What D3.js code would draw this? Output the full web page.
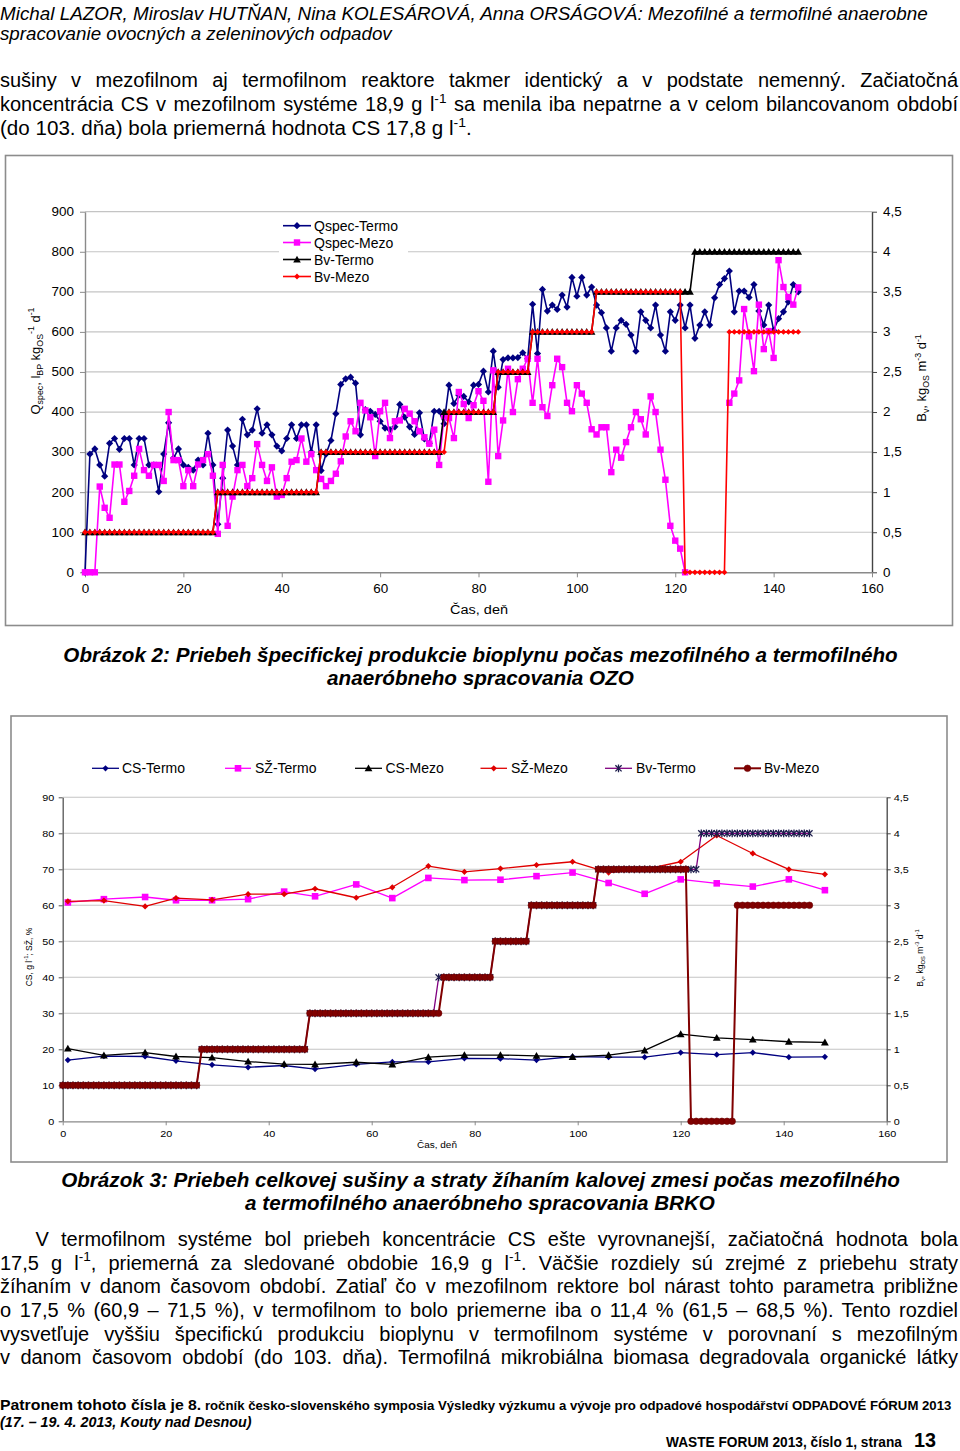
<!DOCTYPE html>
<html>
<head>
<meta charset="utf-8">
<title>Obrázok 2 a 3</title>
<script src="https://cdn.jsdelivr.net/npm/d3@7/dist/d3.min.js"></script>
<style>
html, body { margin:0; padding:0; background:#fff; }
svg { display:block; }
</style>
</head>
<body>
<svg id="page" width="960" height="1451" xmlns="http://www.w3.org/2000/svg"></svg>
<script>
// ================= DATA =================
// Chart 1 (Obrázok 2): daily values, array index = day (0..145)
const qspecTermo = [
  0,295,308,268,240,322,334,307,334,334,
  268,334,334,268,268,201,295,373,285,308,
  268,262,255,280,268,347,268,120,235,355,
  315,268,382,343,355,408,347,368,343,315,
  303,334,368,334,368,368,300,368,254,295,
  329,396,469,483,487,472,343,406,402,394,
  377,360,356,363,419,387,363,344,398,333,
  322,402,402,371,467,421,442,439,425,467,
  469,502,450,552,462,531,535,535,536,548,
  533,669,546,706,652,667,656,692,662,736,
  689,736,692,712,667,648,610,552,610,629,
  619,592,552,650,629,610,667,592,552,650,
  629,667,610,667,584,617,650,617,685,718,
  733,752,650,702,702,686,718,652,617,667,
  604,633,650,675,718,700
];
const qspecMezo = [
  0,0,0,214,161,136,269,269,176,203,
  241,308,255,241,268,268,228,400,280,280,
  215,255,215,269,280,295,241,96,268,116,
  189,255,268,215,235,320,268,228,262,189,
  193,235,276,280,334,276,295,255,233,215,
  228,246,277,339,377,352,423,404,387,290,
  402,423,335,377,379,408,396,377,352,337,
  321,356,268,390,385,335,450,420,385,417,
  452,428,226,504,290,379,508,400,482,508,
  533,423,533,412,390,467,533,512,423,402,
  467,446,423,357,344,362,362,250,306,286,
  325,362,400,382,344,439,400,306,231,116,
  79,59,0,null,null,null,null,null,null,null,
  null,423,446,479,657,589,502,668,557,602,
  535,779,712,687,668,711
];
const bvTermo = [
  0.5,0.5,0.5,0.5,0.5,0.5,0.5,0.5,0.5,0.5,
  0.5,0.5,0.5,0.5,0.5,0.5,0.5,0.5,0.5,0.5,
  0.5,0.5,0.5,0.5,0.5,0.5,0.5,1,1,1,
  1,1,1,1,1,1,1,1,1,1,
  1,1,1,1,1,1,1,1,1.5,1.5,
  1.5,1.5,1.5,1.5,1.5,1.5,1.5,1.5,1.5,1.5,
  1.5,1.5,1.5,1.5,1.5,1.5,1.5,1.5,1.5,1.5,
  1.5,1.5,1.5,2,2,2,2,2,2,2,
  2,2,2,2,2.5,2.5,2.5,2.5,2.5,2.5,
  2.5,3,3,3,3,3,3,3,3,3,
  3,3,3,3,3.5,3.5,3.5,3.5,3.5,3.5,
  3.5,3.5,3.5,3.5,3.5,3.5,3.5,3.5,3.5,3.5,
  3.5,3.5,3.5,3.5,4,4,4,4,4,4,
  4,4,4,4,4,4,4,4,4,4,
  4,4,4,4,4,4
];
const bvMezo = [
  0.5,0.5,0.5,0.5,0.5,0.5,0.5,0.5,0.5,0.5,
  0.5,0.5,0.5,0.5,0.5,0.5,0.5,0.5,0.5,0.5,
  0.5,0.5,0.5,0.5,0.5,0.5,0.5,1,1,1,
  1,1,1,1,1,1,1,1,1,1,
  1,1,1,1,1,1,1,1,1.5,1.5,
  1.5,1.5,1.5,1.5,1.5,1.5,1.5,1.5,1.5,1.5,
  1.5,1.5,1.5,1.5,1.5,1.5,1.5,1.5,1.5,1.5,
  1.5,1.5,1.5,1.5,2,2,2,2,2,2,
  2,2,2,2,2.5,2.5,2.5,2.5,2.5,2.5,
  2.5,3,3,3,3,3,3,3,3,3,
  3,3,3,3,3.5,3.5,3.5,3.5,3.5,3.5,
  3.5,3.5,3.5,3.5,3.5,3.5,3.5,3.5,3.5,3.5,
  3.5,3.5,0,0,0,0,0,0,0,0,
  0,3,3,3,3,3,3,3,3,3,
  3,3,3,3,3,3
];
const c1Names = ["Qspec-Termo","Qspec-Mezo","Bv-Termo","Bv-Mezo"];
const c1LeftTicks = [0,100,200,300,400,500,600,700,800,900];
const c1RightTicks = [0,0.5,1,1.5,2,2.5,3,3.5,4,4.5];
const c1XTicks = [0,20,40,60,80,100,120,140,160];

// Chart 2 (Obrázok 3): weekly samples
const sampleDays = [1,8,16,22,29,36,43,49,57,64,71,78,85,92,99,106,113,120,127,134,141,148];
const csTermo = [17.0,18.1,18.0,16.8,15.7,15.0,15.5,14.5,15.8,16.5,16.5,17.5,17.4,17.0,18.0,17.8,17.8,19.1,18.5,19.1,17.8,17.9];
const szTermo = [60.8,61.7,62.3,61.4,61.4,61.7,63.8,62.5,65.8,62.0,67.6,67.0,67.1,68.1,69.1,66.2,63.2,67.2,66.1,65.2,67.2,64.2];
const csMezo  = [20.2,18.3,19.1,18.0,17.7,16.6,15.9,15.8,16.4,15.8,17.8,18.4,18.4,18.2,17.9,18.4,19.7,24.2,23.2,22.7,22.1,21.9];
const szMezo  = [61.1,61.3,59.7,62.0,61.5,63.1,63.1,64.6,62.1,65.0,70.9,69.3,70.2,71.2,72.1,69.1,70.0,72.1,79.4,74.4,70.0,68.6];
const c2Names = ["CS-Termo","SŽ-Termo","CS-Mezo","SŽ-Mezo","Bv-Termo","Bv-Mezo"];
const c2LeftTicks = [0,10,20,30,40,50,60,70,80,90];
const c2RightTicks = [0,0.5,1,1.5,2,2.5,3,3.5,4,4.5];
const c2XTicks = [0,20,40,60,80,100,120,140,160];

// ================= HELPERS =================
const FONT = '"Liberation Sans", Arial, Helvetica, sans-serif';
const NARROW = '"Liberation Sans Narrow", "Arial Narrow", "Liberation Sans", Arial, sans-serif';
const svg = d3.select('#page');
const commaFmt = d => String(d).replace('.', ',');

function rich(parent, x, y, parts, o) {
  const t = parent.append('text').attr('x', x).attr('y', y)
    .attr('font-family', o.ff || FONT).attr('font-size', o.fs)
    .attr('fill', o.fill || '#000');
  if (o.fw) t.attr('font-weight', o.fw);
  if (o.fst) t.attr('font-style', o.fst);
  if (o.anchor) t.attr('text-anchor', o.anchor);
  let shift = 0;
  parts.forEach(p => {
    const s = Array.isArray(p) ? p[0] : p;
    const k = Array.isArray(p) ? p[1] : 'n';
    let target = 0, size = null;
    if (k === 'sup') { target = -0.42 * o.fs; size = o.fs * 0.68; }
    else if (k === 'sub') { target = 0.28 * o.fs; size = o.fs * 0.68; }
    else if (typeof k === 'number') { size = k; }
    const ts = t.append('tspan').text(s);
    if (target - shift !== 0) ts.attr('dy', target - shift);
    if (size) ts.attr('font-size', size);
    shift = target;
  });
  return t;
}
// horizontal scaling of a text so that it spans w pixels (real geometry via transform)
function fit(t, w) {
  const L = t.node().getComputedTextLength();
  const k = w / L;
  const x = +t.attr('x'), y = +t.attr('y');
  t.attr('x', 0).attr('y', 0).attr('transform', `translate(${x},${y}) scale(${k},1)`);
  return t;
}
function stretch(t, k) {
  const L = t.node().getComputedTextLength();
  return fit(t, L * k);
}
function justify(t, w) {
  const n = (t.text().match(/ /g) || []).length;
  const L = t.node().getComputedTextLength();
  const ws = (w - L) / n;
  if (ws >= 0) t.style('word-spacing', ws + 'px');
  else fit(t, w);
  return t;
}
const mk = {
  diamond: r => `M0,${-r}L${r},0L0,${r}L${-r},0Z`,
  square: s => `M${-s},${-s}H${s}V${s}H${-s}Z`,
  triangle: r => `M0,${-r}L${r},${r*0.78}L${-r},${r*0.78}Z`,
  circle: r => `M${-r},0A${r},${r} 0 1,0 ${r},0A${r},${r} 0 1,0 ${-r},0Z`,
  star: r => `M${-r},${-r}L${r},${r}M${-r},${r}L${r},${-r}M0,${-r*1.25}L0,${r*1.25}`
};
function drawSeries(g, pts, xs, ys, st) {
  const line = d3.line().defined(d => d[1] != null).x(d => xs(d[0])).y(d => ys(d[1]));
  const sg = g.append('g');
  sg.append('path').datum(pts).attr('d', line).attr('fill', 'none')
    .attr('stroke', st.color).attr('stroke-width', st.lw).attr('stroke-linejoin', 'round');
  sg.append('g').selectAll('path').data(pts.filter(d => d[1] != null)).join('path')
    .attr('transform', d => `translate(${xs(d[0])},${ys(d[1])})`)
    .attr('d', st.marker)
    .attr('fill', st.fill || 'none')
    .attr('stroke', st.mstroke || 'none')
    .attr('stroke-width', st.msw || 1);
}
function legendItem(g, x0, x1, y, tx, label, st, fs) {
  g.append('line').attr('x1', x0).attr('x2', x1).attr('y1', y).attr('y2', y)
    .attr('stroke', st.color).attr('stroke-width', st.lw);
  g.append('path').attr('transform', `translate(${(x0 + x1) / 2},${y})`).attr('d', st.marker)
    .attr('fill', st.fill || 'none').attr('stroke', st.mstroke || 'none').attr('stroke-width', st.msw || 1);
  g.append('text').attr('x', tx).attr('y', y + fs * 0.36).attr('font-family', FONT)
    .attr('font-size', fs).attr('fill', '#000').text(label);
}
function styleAxis(g, o) {
  g.attr('font-family', FONT).attr('font-size', o.fs);
  g.select('.domain').attr('stroke', o.domain).attr('stroke-width', o.dw || 1);
  g.selectAll('.tick line').attr('stroke', o.domain).attr('stroke-width', 1);
  g.selectAll('.tick text').attr('fill', '#000').each(function () {
    if (o.k) {
      const L = this.getComputedTextLength();
      this.setAttribute('textLength', L * o.k);
      this.setAttribute('lengthAdjust', 'spacingAndGlyphs');
    }
  });
}

// ================= TEXT: HEADER & PARAGRAPH 1 =================
const txt = svg.append('g');
fit(rich(txt, 0, 20, ["Michal LAZOR, Miroslav HUTŇAN, Nina KOLESÁROVÁ, Anna ORSÁGOVÁ: Mezofilné a termofilné anaerobne"], {fs: 17.5, fst: 'italic'}), 928);
fit(rich(txt, 0, 40, ["spracovanie ovocných a zeleninových odpadov"], {fs: 17.5, fst: 'italic'}), 392);

justify(rich(txt, 0, 87, ["sušiny v mezofilnom aj termofilnom reaktore takmer identický a v podstate nemenný. Začiatočná"], {fs: 20}), 958);
justify(rich(txt, 0, 111, ["koncentrácia CS v mezofilnom systéme 18,9 g l", ["-1", 'sup'], " sa menila iba nepatrne a v celom bilancovanom období"], {fs: 20}), 958);
fit(rich(txt, 0, 135, ["(do 103. dňa) bola priemerná hodnota CS 17,8 g l", ["-1", 'sup'], "."], {fs: 20}), 472);

// ================= CHART 1 =================
const C1 = {l: 85, r: 872, t: 211.7, b: 572.3};
const x1 = d3.scaleLinear().domain([0, 160]).range([C1.l, C1.r]);
const y1 = d3.scaleLinear().domain([0, 900]).range([C1.b, C1.t]);
const y1r = d3.scaleLinear().domain([0, 4.5]).range([C1.b, C1.t]);
const g1 = svg.append('g');
g1.append('rect').attr('x', 5.5).attr('y', 155.5).attr('width', 947).attr('height', 470)
  .attr('fill', '#fff').attr('stroke', '#8c8c8c').attr('stroke-width', 1.6);
g1.append('g').selectAll('line').data(c1LeftTicks.filter(d => d > 0)).join('line')
  .attr('x1', C1.l).attr('x2', C1.r).attr('y1', d => y1(d)).attr('y2', d => y1(d))
  .attr('stroke', '#c4c4c4').attr('stroke-width', 1.2);
const a1L = g1.append('g').attr('transform', `translate(${C1.l},0)`)
  .call(d3.axisLeft(y1).tickValues(c1LeftTicks).tickSize(5).tickSizeOuter(0).tickPadding(6).tickFormat(d3.format('d')));
styleAxis(a1L, {fs: 12, domain: '#8a8a8a', dw: 1.4, k: 1.12});
const a1R = g1.append('g').attr('transform', `translate(${C1.r},0)`)
  .call(d3.axisRight(y1r).tickValues(c1RightTicks).tickSize(5).tickSizeOuter(0).tickPadding(6).tickFormat(commaFmt));
styleAxis(a1R, {fs: 12, domain: '#444', dw: 1.4, k: 1.12});
const a1B = g1.append('g').attr('transform', `translate(0,${C1.b})`)
  .call(d3.axisBottom(x1).tickValues(c1XTicks).tickSize(5).tickSizeOuter(0).tickPadding(7.5).tickFormat(d3.format('d')));
styleAxis(a1B, {fs: 12, domain: '#8a8a8a', dw: 1.4, k: 1.12});

fit(rich(g1, 479, 614, ["Čas, deň"], {fs: 12, anchor: 'middle'}), 58);
const t1L = g1.append('g').attr('transform', 'translate(39.5,361) rotate(-90)');
stretch(rich(t1L, 0, 0, ["Q", ["spec", 'sub'], ", l", ["BP", 'sub'], " kg", ["OS", 'sub'], ["-1", 'sup'], " d", ["-1", 'sup']], {fs: 12, anchor: 'middle'}), 1.08);
const t1R = g1.append('g').attr('transform', 'translate(926,378) rotate(-90)');
stretch(rich(t1R, 0, 0, ["B", ["v", 'sub'], ", kg", ["OS", 'sub'], " m", ["-3", 'sup'], " d", ["-1", 'sup']], {fs: 12, anchor: 'middle'}), 1.08);

const c1Styles = [
  {color: '#000080', lw: 1.6, marker: mk.diamond(3.6), fill: '#000080'},
  {color: '#ff00ff', lw: 1.6, marker: mk.square(3.2), fill: '#ff00ff'},
  {color: '#000000', lw: 1.6, marker: mk.triangle(3.8), fill: '#000000'},
  {color: '#ff0000', lw: 1.6, marker: mk.diamond(2.9), fill: '#ff0000'}
];
const pl1 = g1.append('g');
drawSeries(pl1, qspecTermo.map((v, i) => [i, v]), x1, y1, c1Styles[0]);
drawSeries(pl1, qspecMezo.map((v, i) => [i, v]), x1, y1, c1Styles[1]);
drawSeries(pl1, bvTermo.map((v, i) => [i, v]), x1, y1r, c1Styles[2]);
drawSeries(pl1, bvMezo.map((v, i) => [i, v]), x1, y1r, c1Styles[3]);

const leg1 = g1.append('g');
leg1.append('rect').attr('x', 279).attr('y', 215).attr('width', 129).attr('height', 70).attr('fill', '#fff');
[225.7, 242.5, 259.5, 276.5].forEach((y, i) => legendItem(leg1, 283, 311, y, 314, c1Names[i], c1Styles[i], 14));

// captions
fit(rich(svg, 480.5, 662, ["Obrázok 2: Priebeh špecifickej produkcie bioplynu počas mezofilného a termofilného"], {fs: 19.5, fw: 'bold', fst: 'italic', anchor: 'middle'}), 835);
fit(rich(svg, 480.5, 685, ["anaeróbneho spracovania OZO"], {fs: 19.5, fw: 'bold', fst: 'italic', anchor: 'middle'}), 307);

// ================= CHART 2 =================
const C2 = {l: 62.7, r: 886.7, t: 797.3, b: 1121.3};
const x2 = d3.scaleLinear().domain([0, 160]).range([C2.l, C2.r]);
const y2 = d3.scaleLinear().domain([0, 90]).range([C2.b, C2.t]);
const y2r = d3.scaleLinear().domain([0, 4.5]).range([C2.b, C2.t]);
const g2 = svg.append('g');
g2.append('rect').attr('x', 11).attr('y', 716).attr('width', 936).attr('height', 446)
  .attr('fill', '#fff').attr('stroke', '#8c8c8c').attr('stroke-width', 1.6);
g2.append('g').selectAll('line').data(c2LeftTicks.filter(d => d > 0)).join('line')
  .attr('x1', C2.l).attr('x2', C2.r).attr('y1', d => y2(d)).attr('y2', d => y2(d))
  .attr('stroke', '#c4c4c4').attr('stroke-width', 1.1);
const a2L = g2.append('g').attr('transform', `translate(${C2.l},0)`)
  .call(d3.axisLeft(y2).tickValues(c2LeftTicks).tickSize(4).tickSizeOuter(0).tickPadding(4.5).tickFormat(d3.format('d')));
styleAxis(a2L, {fs: 9, domain: '#555', dw: 1.3, k: 1.2});
const a2R = g2.append('g').attr('transform', `translate(${C2.r},0)`)
  .call(d3.axisRight(y2r).tickValues(c2RightTicks).tickSize(4).tickSizeOuter(0).tickPadding(3).tickFormat(commaFmt));
styleAxis(a2R, {fs: 9, domain: '#444', dw: 1.3, k: 1.2});
const a2B = g2.append('g').attr('transform', `translate(0,${C2.b})`)
  .call(d3.axisBottom(x2).tickValues(c2XTicks).tickSize(4).tickSizeOuter(0).tickPadding(5.5).tickFormat(d3.format('d')));
styleAxis(a2B, {fs: 9, domain: '#8a8a8a', dw: 1.3, k: 1.2});

fit(rich(g2, 437, 1148, ["Čas, deň"], {fs: 9.5, anchor: 'middle'}), 40);
const t2L = g2.append('g').attr('transform', 'translate(32,957) rotate(-90)');
stretch(rich(t2L, 0, 0, ["CS, g l", ["-1", 'sup'], "; SŽ, %"], {fs: 8.5, anchor: 'middle'}), 1.0);
const t2R = g2.append('g').attr('transform', 'translate(923,958) rotate(-90)');
stretch(rich(t2R, 0, 0, ["B", ["v", 'sub'], ", kg", ["OS", 'sub'], " m", ["-3", 'sup'], " d", ["-1", 'sup']], {fs: 8.5, anchor: 'middle'}), 1.0);

const c2Styles = [
  {color: '#000080', lw: 1.3, marker: mk.diamond(3.1), fill: '#000080'},
  {color: '#ff00ff', lw: 1.3, marker: mk.square(3.3), fill: '#ff00ff'},
  {color: '#000000', lw: 1.3, marker: mk.triangle(3.9), fill: '#000000'},
  {color: '#e00000', lw: 1.3, marker: mk.diamond(3.1), fill: '#e00000'},
  {color: '#800080', lw: 1.3, marker: mk.star(3.1), fill: 'none', mstroke: '#1c1c4c', msw: 1.3},
  {color: '#800000', lw: 2, marker: mk.circle(3.3), fill: '#800000', mstroke: '#6a0000', msw: 0.6}
];
const pl2 = g2.append('g');
drawSeries(pl2, sampleDays.map((d, i) => [d, csTermo[i]]), x2, y2, c2Styles[0]);
drawSeries(pl2, sampleDays.map((d, i) => [d, szTermo[i]]), x2, y2, c2Styles[1]);
drawSeries(pl2, sampleDays.map((d, i) => [d, csMezo[i]]), x2, y2, c2Styles[2]);
drawSeries(pl2, sampleDays.map((d, i) => [d, szMezo[i]]), x2, y2, c2Styles[3]);
drawSeries(pl2, bvTermo.map((v, i) => [i, v]), x2, y2r, c2Styles[4]);
drawSeries(pl2, bvMezo.map((v, i) => [i, v]), x2, y2r, c2Styles[5]);

const leg2 = g2.append('g');
const leg2Pos = [[92, 119, 122], [225, 251, 255], [355, 382, 385.5], [480.5, 507, 511], [605, 632, 636], [734, 761, 764]];
leg2Pos.forEach((p, i) => legendItem(leg2, p[0], p[1], 768.3, p[2], c2Names[i], c2Styles[i], 14));

fit(rich(svg, 480.5, 1187, ["Obrázok 3: Priebeh celkovej sušiny a straty žíhaním kalovej zmesi počas mezofilného"], {fs: 19.5, fw: 'bold', fst: 'italic', anchor: 'middle'}), 839);
fit(rich(svg, 480, 1210, ["a termofilného anaeróbneho spracovania BRKO"], {fs: 19.5, fw: 'bold', fst: 'italic', anchor: 'middle'}), 470);

// ================= PARAGRAPH 2 =================
const p2 = svg.append('g');
justify(rich(p2, 35.5, 1246, ["V termofilnom systéme bol priebeh koncentrácie CS ešte vyrovnanejší, začiatočná hodnota bola"], {fs: 20}), 958 - 35.5);
justify(rich(p2, 0, 1269.5, ["17,5 g l", ["-1", 'sup'], ", priemerná za sledované obdobie 16,9 g l", ["-1", 'sup'], ". Väčšie rozdiely sú zrejmé z priebehu straty"], {fs: 20}), 958);
justify(rich(p2, 0, 1293, ["žíhaním v danom časovom období. Zatiaľ čo v mezofilnom rektore bol nárast tohto parametra približne"], {fs: 20}), 958);
justify(rich(p2, 0, 1316.5, ["o 17,5 % (60,9 – 71,5 %), v termofilnom to bolo priemerne iba o 11,4 % (61,5 – 68,5 %). Tento rozdiel"], {fs: 20}), 958);
justify(rich(p2, 0, 1340.5, ["vysvetľuje vyššiu špecifickú produkciu bioplynu v termofilnom systéme v porovnaní s mezofilným"], {fs: 20}), 958);
justify(rich(p2, 0, 1364, ["v danom časovom období (do 103. dňa). Termofilná mikrobiálna biomasa degradovala organické látky"], {fs: 20}), 958);

// ================= FOOTER =================
fit(rich(svg, 0, 1410, [["Patronem tohoto čísla je 8.", 15], [" ročník česko-slovenského symposia Výsledky výzkumu a vývoje pro odpadové hospodářství ODPADOVÉ FÓRUM 2013", 12.5]], {fs: 15, fw: 'bold', ff: NARROW}), 952);
fit(rich(svg, 0, 1427, ["(17. – 19. 4. 2013, Kouty nad Desnou)"], {fs: 14, fw: 'bold', fst: 'italic', ff: NARROW}), 252);
fit(rich(svg, 666, 1446.5, ["WASTE FORUM 2013, číslo 1, strana"], {fs: 15, fw: 'bold', ff: NARROW}), 236);
fit(rich(svg, 914, 1446.5, ["13"], {fs: 21, fw: 'bold', ff: NARROW}), 22);
</script>
</body>
</html>
